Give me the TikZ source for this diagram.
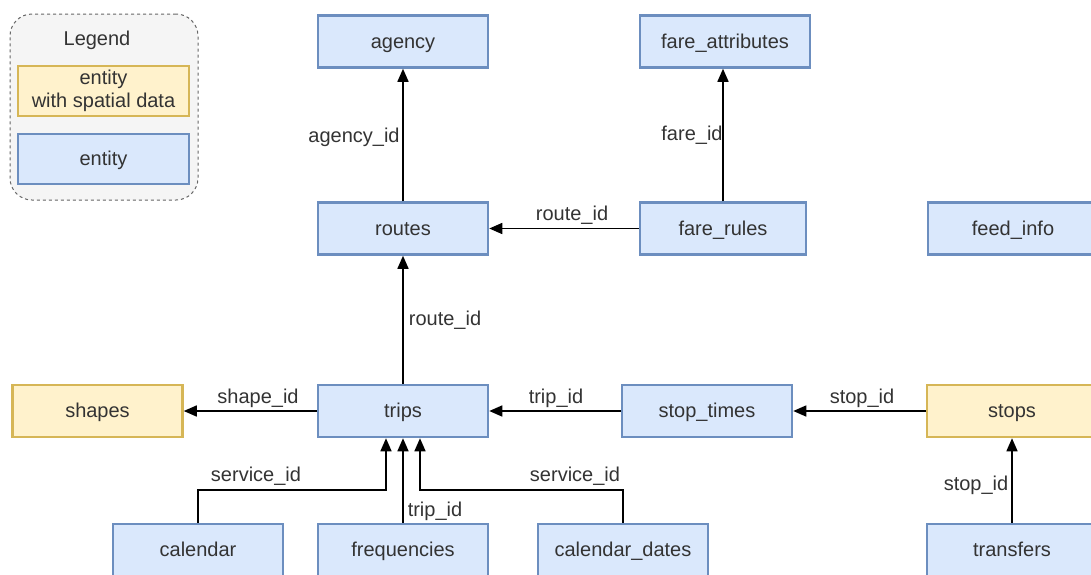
\documentclass[tikz,border=0pt]{standalone}
\usepackage{fontspec}
\setmainfont{Liberation Sans}
\usetikzlibrary{arrows.meta}
\definecolor{entfill}{HTML}{DAE8FC}
\definecolor{entstroke}{HTML}{6C8EBF}
\definecolor{spfill}{HTML}{FFF2CC}
\definecolor{spstroke}{HTML}{D6B656}
\definecolor{legfill}{HTML}{F5F5F5}
\definecolor{legstroke}{HTML}{666666}
\definecolor{txt}{HTML}{333333}
\tikzset{
  every node/.style={text=txt, font=\fontsize{20}{23}\selectfont},
  entity/.style={draw=entstroke, fill=entfill, line width=2.5pt,
    minimum width=170pt, minimum height=52pt, inner sep=0pt, align=center,
    text height=15pt, text depth=2pt},
  spatial/.style={entity, draw=spstroke, fill=spfill},
  fk/.style={-{Triangle[length=13pt,width=11pt]}, line width=1.5pt, draw=black},
  lbl/.style={inner sep=1pt},
}
\begin{document}
\begin{tikzpicture}[x=1pt,y=-1pt]
  \useasboundingbox (0,0) rectangle (1091,574);
  \clip (0,0) rectangle (1091,574);

  % legend
  \node[draw=legstroke, fill=legfill, dashed, line width=1pt, rounded corners=22pt,
        minimum width=188pt, minimum height=186pt] (legend) at (104,107) {};
  \node (legendtitle) at (97,40) {Legend};
  \node[spatial, minimum width=171pt, minimum height=50pt, text height=, text depth=]
       (legsp) at (103.5,91) {entity\\with spatial data};
  \node[entity, minimum width=171pt, minimum height=50pt] (legent) at (103.5,159) {entity};

  % entities
  \node[entity] (agency) at (403,41.5) {agency};
  \node[entity] (fareattr) at (725,41.5) {fare\_attributes};
  \node[entity] (routes) at (403,228.5) {routes};
  \node[entity, minimum width=166pt] (farerules) at (723,228.5) {fare\_rules};
  \node[entity] (feedinfo) at (1013,228.5) {feed\_info};
  \node[spatial] (shapes) at (97.5,411) {shapes};
  \node[entity] (trips) at (403,411) {trips};
  \node[entity] (stoptimes) at (707,411) {stop\_times};
  \node[spatial] (stops) at (1012,411) {stops};
  \node[entity] (calendar) at (198,550) {calendar};
  \node[entity] (frequencies) at (403,550) {frequencies};
  \node[entity] (caldates) at (623,550) {calendar\_dates};
  \node[entity] (transfers) at (1012,550) {transfers};

  % foreign keys
  \draw[fk] (routes.north) -- (agency.south);
  \draw[fk] (farerules.north) -- (farerules.north |- fareattr.south);
  \draw[fk] (farerules.west) -- (routes.east);
  \draw[fk] (trips.north) -- (routes.south);
  \draw[fk] (trips.west) -- (shapes.east);
  \draw[fk] (stoptimes.west) -- (trips.east);
  \draw[fk] (stops.west) -- (stoptimes.east);
  \draw[fk] (transfers.north) -- (stops.south);
  \draw[fk] (frequencies.north) -- (trips.south);
  \draw[fk] (calendar.north) -- ++(0,-33) -| ([xshift=-17pt]trips.south);
  \draw[fk] (caldates.north) -- ++(0,-33) -| ([xshift=17pt]trips.south);

  % key labels
  \node[lbl] (lagency) at (354,137) {agency\_id};
  \node[lbl] (lfare) at (692,135) {fare\_id};
  \node[lbl] (lroute1) at (572,215) {route\_id};
  \node[lbl] (lroute2) at (445,320) {route\_id};
  \node[lbl] (lshape) at (258,398) {shape\_id};
  \node[lbl] (ltrip1) at (556,398) {trip\_id};
  \node[lbl] (lstop1) at (862,398) {stop\_id};
  \node[lbl] (lstop2) at (976,485) {stop\_id};
  \node[lbl] (lserv1) at (256,476) {service\_id};
  \node[lbl] (ltrip2) at (435,511) {trip\_id};
  \node[lbl] (lserv2) at (575,476) {service\_id};
\end{tikzpicture}
\end{document}
